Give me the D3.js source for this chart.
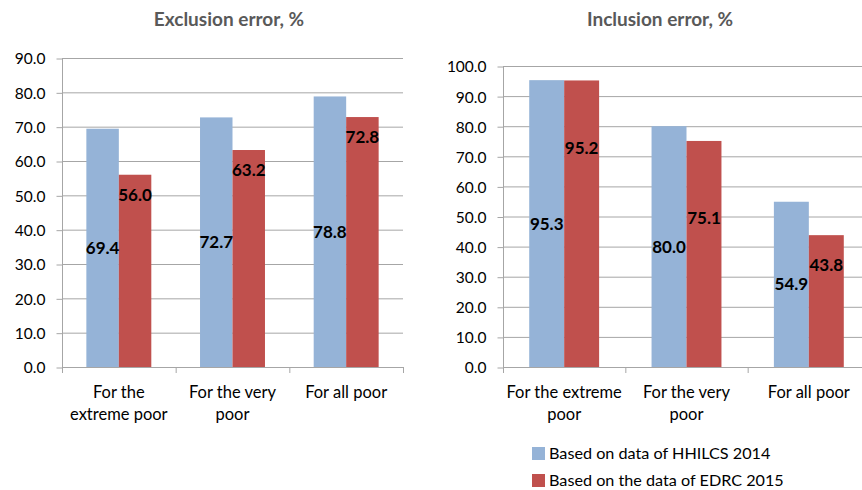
<!DOCTYPE html>
<html>
<head>
<meta charset="utf-8">
<script src="https://cdn.jsdelivr.net/npm/d3@7"></script>
<style>
  html, body { margin: 0; padding: 0; background: #fff; }
  svg { display: block; font-family: Lato, "Open Sans", sans-serif; }
</style>
</head>
<body>
<svg id="chart" width="862" height="490"></svg>
<script>
// Categories and series
const categories = [["For the", "extreme poor"], ["For the very", "poor"], ["For all poor"]];
const categoriesRight = [["For the extreme", "poor"], ["For the very", "poor"], ["For all poor"]];
const seriesNames = ["Based on data of HHILCS 2014", "Based on the data of EDRC 2015"];
const exclusionHHILCS = [69.4, 72.7, 78.8];
const exclusionEDRC = [56.0, 63.2, 72.8];
const inclusionHHILCS = [95.3, 80.0, 54.9];
const inclusionEDRC = [95.2, 75.1, 43.8];
const exclusionTicks = [0, 10, 20, 30, 40, 50, 60, 70, 80, 90];
const inclusionTicks = [0, 10, 20, 30, 40, 50, 60, 70, 80, 90, 100];

const colors = ["#95B3D7", "#C0504D"];
const gridColor = "#A6A6A6";
const svg = d3.select("#chart");

function drawPanel(opts) {
  const { title, titleX, left, right, top, bottom, yMax, ticks, cats, series, redLabel } = opts;
  const g = svg.append("g");

  const x = d3.scaleBand().domain(d3.range(cats.length)).range([left, right]);
  const y = d3.scaleLinear().domain([0, yMax]).range([bottom, top]);
  const inner = d3.scaleBand().domain([0, 1]).range([0, x.bandwidth()]).paddingInner(0).paddingOuter(0.75);

  g.append("text")
    .attr("x", titleX).attr("y", 26)
    .attr("text-anchor", "middle")
    .attr("font-weight", "bold").attr("font-size", 19)
    .attr("fill", "#595959")
    .text(title);

  // horizontal gridlines
  g.selectAll("line.grid").data(ticks.filter(t => t > 0)).join("line")
    .attr("x1", left).attr("x2", right)
    .attr("y1", d => y(d) + 0.5).attr("y2", d => y(d) + 0.5)
    .attr("stroke", gridColor).attr("stroke-width", 1);

  // y axis
  const yAxis = d3.axisLeft(y).tickValues(ticks).tickFormat(d3.format(".1f")).tickSize(6).tickPadding(11);
  const ya = g.append("g").attr("transform", `translate(${left + 0.5},0.5)`).call(yAxis);
  ya.select(".domain").attr("stroke", gridColor).attr("d", `M0,${top}V${bottom}`);
  ya.selectAll(".tick line").attr("stroke", gridColor);
  ya.selectAll(".tick text").attr("font-size", 15.5).attr("fill", "#000").attr("font-family", "Lato, sans-serif")
    .attr("dy", "0.35em");

  // bars
  series.forEach((vals, s) => {
    g.selectAll(null).data(vals).join("rect")
      .attr("x", (d, i) => x(i) + inner(s))
      .attr("y", d => y(d))
      .attr("width", inner.bandwidth())
      .attr("height", d => bottom - y(d))
      .attr("fill", colors[s]);
  });

  // x axis
  g.append("line").attr("x1", left).attr("x2", right)
    .attr("y1", bottom + 0.5).attr("y2", bottom + 0.5).attr("stroke", gridColor);
  g.selectAll("line.xt").data(d3.range(cats.length + 1)).join("line")
    .attr("x1", i => left + i * x.step() + 0.5).attr("x2", i => left + i * x.step() + 0.5)
    .attr("y1", bottom).attr("y2", bottom + 6).attr("stroke", gridColor);

  // category labels
  cats.forEach((lines, i) => {
    const t = g.append("text")
      .attr("x", x(i) + x.bandwidth() / 2).attr("y", bottom + 31)
      .attr("text-anchor", "middle").attr("font-size", 16.5).attr("fill", "#000");
    lines.forEach((ln, k) => t.append("tspan").attr("x", x(i) + x.bandwidth() / 2).attr("dy", k ? 22 : 0).text(ln));
  });

  // data labels: first series centred in bar, second series near bar top
  series[0].forEach((v, i) => {
    g.append("text")
      .attr("x", x(i) + inner(0) + inner.bandwidth() / 2)
      .attr("y", (y(v) + bottom) / 2).attr("dy", "0.35em")
      .attr("text-anchor", "middle").attr("font-weight", "bold").attr("font-size", 17).attr("fill", "#000")
      .text(d3.format(".1f")(v));
  });
  series[1].forEach((v, i) => {
    g.append("text")
      .attr("x", x(i) + inner(1) + inner.bandwidth() / 2)
      .attr("y", redLabel(v, i, y)).attr("dy", "0.35em")
      .attr("text-anchor", "middle").attr("font-weight", "bold").attr("font-size", 17).attr("fill", "#000")
      .text(d3.format(".1f")(v));
  });
  return { x, y };
}

// Exclusion error panel
drawPanel({
  title: "Exclusion error, %", titleX: 229,
  left: 62, right: 403, top: 58, bottom: 367, yMax: 90,
  ticks: exclusionTicks, cats: categories,
  series: [exclusionHHILCS, exclusionEDRC],
  redLabel: (v, i, y) => y(v) + 20
});

// Inclusion error panel (EDRC labels placed at fixed fractions of bar height)
const inclusionLabelShare = [0.765, 0.66, 0.775];
drawPanel({
  title: "Inclusion error, %", titleX: 660,
  left: 503, right: 870, top: 66, bottom: 367, yMax: 100,
  ticks: inclusionTicks, cats: categoriesRight,
  series: [inclusionHHILCS, inclusionEDRC],
  redLabel: (v, i, y) => y(v * inclusionLabelShare[i])
});

// Legend
const legend = svg.append("g");
seriesNames.forEach((name, i) => {
  const yy = 453 + i * 27;
  legend.append("rect").attr("x", 532).attr("y", yy - 6).attr("width", 13).attr("height", 13).attr("fill", colors[i]);
  legend.append("text").attr("x", 549).attr("y", yy).attr("dy", "0.35em")
    .attr("font-size", 16.2).attr("fill", "#000").text(name);
});
</script>
</body>
</html>
